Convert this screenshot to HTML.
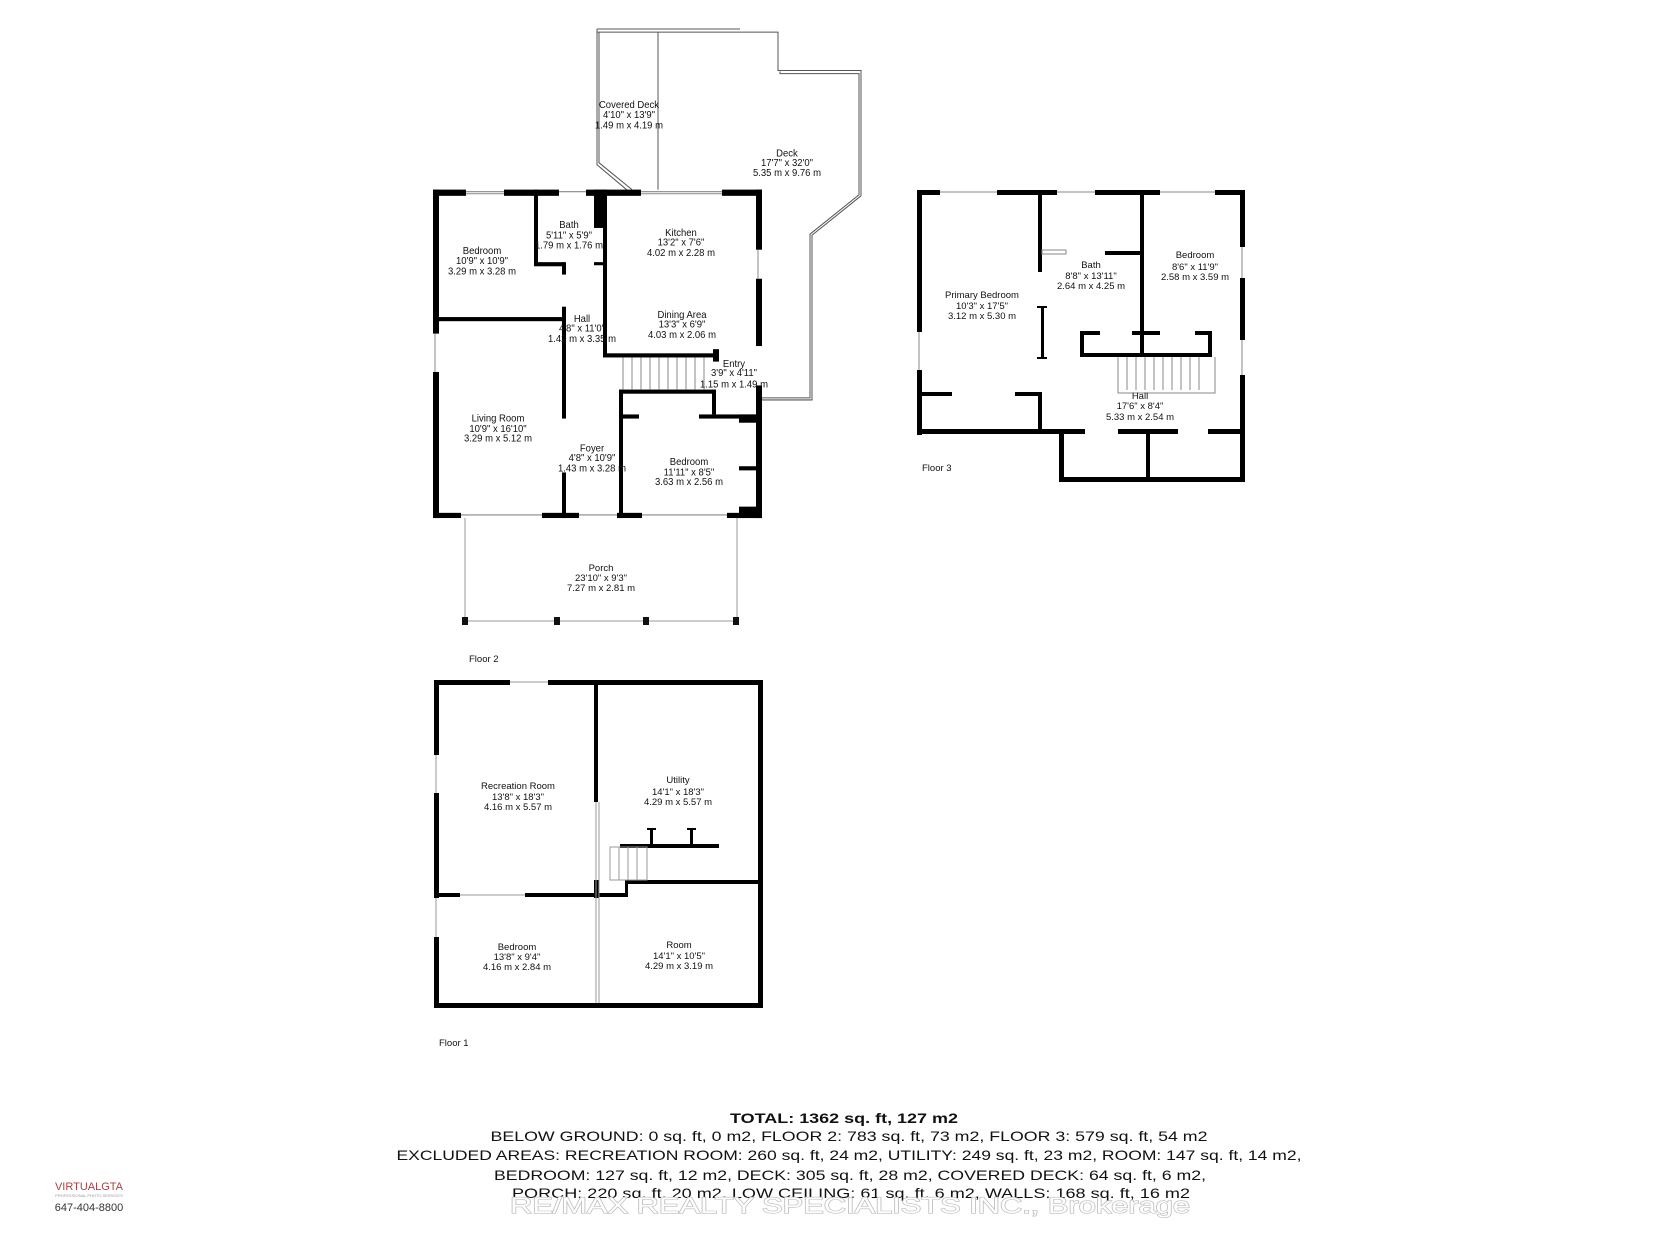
<!DOCTYPE html>
<html><head><meta charset="utf-8"><style>
html,body{margin:0;padding:0;background:#fff}
svg{display:block}
text{font-family:"Liberation Sans",sans-serif;font-size:9.5px;fill:#111;text-anchor:middle}
.fl{text-anchor:start}
.b{font-family:"Liberation Sans Narrow","Liberation Sans",sans-serif;font-size:14px}
</style></head><body>
<svg width="1680" height="1260" viewBox="0 0 1680 1260" xmlns="http://www.w3.org/2000/svg">
<g transform="matrix(1 0 0 1.036 -1 -1)">
<!-- Decks -->
<g fill="none" stroke="#555" stroke-width="1">
<path d="M598 29 L741 29 M598 32 L779 32 L779 69 L862 69 L862 190 L813 228 L813 387 L763 387"/>
<path d="M600 32 L600 158 L633 184 M598 29 L598 160 L630 186"/>
<path d="M659 32 L659 184"/>
<path d="M781 70 L781 72 L860 72 L860 189 L811 227 L811 385 L763 385"/>
</g>
<!-- Floor 2 walls -->
<g fill="#000">
<rect x="434" y="184" width="6" height="139"/><rect x="434" y="360" width="6" height="141"/>
<rect x="434" y="184" width="33" height="6"/><rect x="505" y="184" width="55" height="6"/><rect x="587" y="184" width="55" height="6"/><rect x="723" y="184" width="40" height="6"/>
<rect x="757" y="184" width="6" height="58"/><rect x="757" y="270" width="6" height="65"/><rect x="757" y="373" width="6" height="128"/>
<rect x="434" y="496" width="28" height="5"/><rect x="543" y="496" width="37" height="5"/><rect x="618" y="496" width="25" height="5"/><rect x="728" y="496" width="35" height="5"/>
<rect x="535" y="184" width="4" height="72"/><rect x="535" y="254" width="29" height="4"/><rect x="595" y="184" width="12" height="37"/><rect x="604" y="184" width="4" height="161"/><rect x="595" y="254" width="12" height="3"/>
<rect x="434" y="307" width="132" height="4"/>
<rect x="563" y="254" width="4" height="12"/><rect x="563" y="297" width="4" height="108"/><rect x="563" y="457" width="4" height="44"/>
<rect x="604" y="342" width="113" height="4"/><rect x="714" y="338" width="6" height="12"/>
<rect x="620" y="377" width="96" height="4"/><rect x="620" y="377" width="4" height="31"/><rect x="713" y="377" width="4" height="24"/>
<rect x="620" y="401" width="20" height="4"/><rect x="700" y="401" width="63" height="4"/><rect x="740" y="401" width="23" height="8"/>
<rect x="620" y="401" width="4" height="100"/><rect x="740" y="451" width="23" height="4"/><rect x="740" y="490" width="23" height="11"/>
</g>
<g fill="none" stroke="#888" stroke-width="1">
<path d="M467 186 H505 M560 186 H587 M642 186 H723 M467 188 H505 M642 188 H723"/>
<path d="M462 498 H543 M643 498 H728 M580 498 H618"/>
<path d="M436 323 V360 M759 242 V270"/>
<path d="M624 346 V377 M633 346 V377 M642 346 V377 M651 346 V377 M660 346 V377 M669 346 V377 M678 346 V377 M687 346 V377 M696 346 V377 M705 346 V377"/>
</g>
<text x="630" y="105">Covered Deck</text><text x="630" y="115">4'10" x 13'9"</text><text x="630" y="125">1.49 m x 4.19 m</text>
<text x="788" y="152">Deck</text><text x="788" y="161">17'7" x 32'0"</text><text x="788" y="171">5.35 m x 9.76 m</text>
<text x="570" y="221">Bath</text><text x="570" y="231">5'11" x 5'9"</text><text x="570" y="241">1.79 m x 1.76 m</text>
<text x="682" y="229">Kitchen</text><text x="682" y="238">13'2" x 7'6"</text><text x="682" y="248">4.02 m x 2.28 m</text>
<text x="483" y="246">Bedroom</text><text x="483" y="256">10'9" x 10'9"</text><text x="483" y="266">3.29 m x 3.28 m</text>
<text x="583" y="312">Hall</text><text x="583" y="321">4'8" x 11'0"</text><text x="583" y="331">1.42 m x 3.35 m</text>
<text x="683" y="308">Dining Area</text><text x="683" y="317">13'3" x 6'9"</text><text x="683" y="327">4.03 m x 2.06 m</text>
<text x="735" y="355">Entry</text><text x="735" y="364">3'9" x 4'11"</text><text x="735" y="375">1.15 m x 1.49 m</text>
<text x="499" y="408">Living Room</text><text x="499" y="418">10'9" x 16'10"</text><text x="499" y="427">3.29 m x 5.12 m</text>
<text x="593" y="437">Foyer</text><text x="593" y="446">4'8" x 10'9"</text><text x="593" y="456">1.43 m x 3.28 m</text>
<text x="690" y="450">Bedroom</text><text x="690" y="460">11'11" x 8'5"</text><text x="690" y="469">3.63 m x 2.56 m</text>
</g>
<!-- Porch -->
<path d="M465 518 L465 621 M737 518 L737 621 M465 621 L737 621" fill="none" stroke="#999"/>
<g fill="#111">
<rect x="462" y="617" width="6" height="8"/><rect x="554" y="617" width="6" height="8"/><rect x="643" y="617" width="6" height="8"/><rect x="733" y="617" width="6" height="8"/>
</g>
<text x="601" y="571">Porch</text><text x="601" y="581">23'10" x 9'3"</text><text x="601" y="591">7.27 m x 2.81 m</text>
<text class="fl" x="469" y="662">Floor 2</text>
<!-- Floor 3 walls -->
<g fill="#000">
<rect x="917" y="190" width="5" height="142"/><rect x="917" y="370" width="5" height="65"/>
<rect x="917" y="190" width="23" height="5"/><rect x="997" y="190" width="60" height="5"/><rect x="1095" y="190" width="65" height="5"/><rect x="1215" y="190" width="30" height="5"/>
<rect x="1240" y="190" width="5" height="57"/><rect x="1240" y="278" width="5" height="62"/><rect x="1240" y="375" width="5" height="107"/>
<rect x="917" y="429" width="168" height="5"/><rect x="1118" y="429" width="60" height="5"/><rect x="1208" y="429" width="37" height="5"/>
<rect x="1059" y="429" width="5" height="53"/><rect x="1059" y="477" width="186" height="5"/><rect x="1146" y="429" width="4" height="50"/>
<rect x="1038" y="190" width="4" height="82"/><rect x="1041" y="306" width="3" height="53"/><rect x="1037" y="306" width="10" height="2"/><rect x="1037" y="357" width="10" height="2"/>
<rect x="917" y="392" width="35" height="4"/><rect x="1015" y="392" width="27" height="4"/><rect x="1038" y="392" width="4" height="40"/>
<rect x="1140" y="190" width="4" height="165"/><rect x="1105" y="251" width="39" height="4"/>
<rect x="1080" y="331" width="4" height="25"/><rect x="1208" y="331" width="4" height="25"/><rect x="1080" y="353" width="132" height="4"/>
<rect x="1080" y="331" width="20" height="4"/><rect x="1132" y="331" width="28" height="4"/><rect x="1195" y="331" width="17" height="4"/>
</g>
<g fill="none" stroke="#888" stroke-width="1">
<path d="M940 192 H997 M1057 192 H1095 M1160 192 H1215 M1242 247 V278 M1242 340 V375 M919 332 V370"/>
<path d="M1118 357 V393 H1215 V357 M1127 357 V390 M1136 357 V390 M1145 357 V390 M1154 357 V390 M1163 357 V390 M1172 357 V390 M1181 357 V390 M1190 357 V390 M1199 357 V390"/>
<rect x="1042" y="250" width="24" height="4"/>
</g>
<!-- Floor 1 walls -->
<g fill="#000">
<rect x="434" y="680" width="5" height="75"/><rect x="434" y="793" width="5" height="105"/><rect x="434" y="937" width="5" height="71"/>
<rect x="434" y="680" width="76" height="5"/><rect x="548" y="680" width="215" height="5"/>
<rect x="758" y="680" width="5" height="328"/><rect x="434" y="1003" width="329" height="5"/>
<rect x="594" y="680" width="4" height="122"/><rect x="594" y="880" width="5" height="18"/>
<rect x="434" y="893" width="26" height="4"/><rect x="525" y="893" width="103" height="4"/>
<rect x="625" y="880" width="138" height="4"/><rect x="625" y="880" width="3" height="15"/>
<rect x="620" y="844" width="99" height="4"/><rect x="650" y="828" width="3" height="17"/><rect x="690" y="828" width="3" height="17"/><rect x="647" y="828" width="9" height="2"/><rect x="687" y="828" width="9" height="2"/>
</g>
<g fill="none" stroke="#999" stroke-width="1">
<path d="M510 682 H548 M436 755 V793 M436 898 V937 M460 895 H525 M596 802 V1003 M599 802 V1003"/>
<path d="M610 847 H647 V880 H610 Z M619 847 V880 M628 847 V880 M637 847 V880"/>
</g>
<text x="982" y="298">Primary Bedroom</text><text x="982" y="309">10'3" x 17'5"</text><text x="982" y="319">3.12 m x 5.30 m</text>
<text x="1091" y="268">Bath</text><text x="1091" y="279">8'8" x 13'11"</text><text x="1091" y="289">2.64 m x 4.25 m</text>
<text x="1195" y="258">Bedroom</text><text x="1195" y="270">8'6" x 11'9"</text><text x="1195" y="280">2.58 m x 3.59 m</text>
<text x="1140" y="399">Hall</text><text x="1140" y="409">17'6" x 8'4"</text><text x="1140" y="420">5.33 m x 2.54 m</text>
<text class="fl" x="922" y="471">Floor 3</text>
<text x="518" y="789">Recreation Room</text><text x="518" y="800">13'8" x 18'3"</text><text x="518" y="810">4.16 m x 5.57 m</text>
<text x="678" y="783">Utility</text><text x="678" y="795">14'1" x 18'3"</text><text x="678" y="805">4.29 m x 5.57 m</text>
<text x="517" y="950">Bedroom</text><text x="517" y="960">13'8" x 9'4"</text><text x="517" y="970">4.16 m x 2.84 m</text>
<text x="679" y="948">Room</text><text x="679" y="959">14'1" x 10'5"</text><text x="679" y="969">4.29 m x 3.19 m</text>
<text class="fl" x="439" y="1046">Floor 1</text>
<!-- Summary -->
<text class="b" x="844" y="1123" font-weight="bold" textLength="228" lengthAdjust="spacingAndGlyphs">TOTAL:  1362 sq. ft,  127 m2</text>
<text class="b" x="849" y="1141" textLength="717" lengthAdjust="spacingAndGlyphs">BELOW GROUND:  0 sq. ft,  0 m2,  FLOOR 2:  783 sq. ft,  73 m2,  FLOOR 3:  579 sq. ft,  54 m2</text>
<text class="b" x="849" y="1160" textLength="905" lengthAdjust="spacingAndGlyphs">EXCLUDED AREAS:  RECREATION ROOM:  260 sq. ft,  24 m2,  UTILITY:  249 sq. ft,  23 m2,  ROOM:  147 sq. ft,  14 m2,</text>
<text class="b" x="850" y="1180" textLength="712" lengthAdjust="spacingAndGlyphs">BEDROOM:  127 sq. ft,  12 m2,  DECK:  305 sq. ft,  28 m2,  COVERED DECK:  64 sq. ft,  6 m2,</text>
<text class="b" x="851" y="1198" textLength="678" lengthAdjust="spacingAndGlyphs">PORCH:  220 sq. ft,  20 m2,  LOW CEILING:  61 sq. ft,  6 m2,  WALLS:  168 sq. ft,  16 m2</text>
<text class="b" x="850" y="1213" textLength="680" lengthAdjust="spacingAndGlyphs" style="font-size:22px;fill:#fff;stroke:#bbb;stroke-width:1.2;paint-order:stroke">RE/MAX REALTY SPECIALISTS INC., Brokerage</text>
<text x="89" y="1190" style="font-size:11px;fill:#b04040">VIRTUALGTA</text>
<text x="89" y="1197" style="font-size:4px;fill:#999">PROFESSIONAL PHOTO SERVICES</text>
<text x="89" y="1211" style="font-size:11px;fill:#333">647-404-8800</text>
</svg>
</body></html>
